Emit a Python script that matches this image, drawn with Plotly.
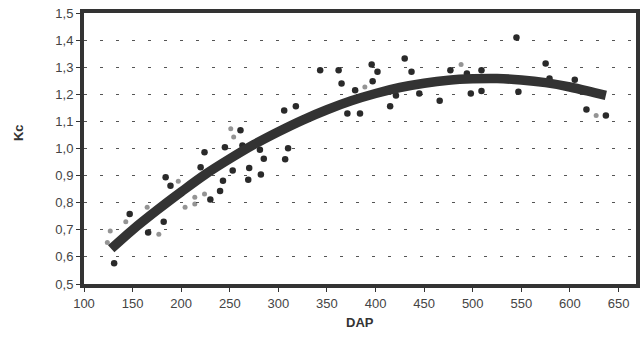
import plotly.graph_objects as go

# Observed points (DAP, Kc) - clearly printed dots
dap_obs = [131, 147, 166, 182, 184, 189, 220, 230, 240, 243, 253, 270, 269, 282,
           224, 245, 261, 263, 281, 285, 310, 307, 306, 318, 343, 362, 365, 371,
           384, 379, 396, 402, 397, 415, 421, 430, 437, 445, 466, 477, 494, 498,
           509, 509, 545, 547, 575, 579, 605, 617, 637]
kc_obs = [0.577, 0.758, 0.690, 0.730, 0.894, 0.863, 0.931, 0.812, 0.843, 0.881,
          0.919, 0.928, 0.885, 0.904, 0.986, 1.005, 1.067, 1.011, 0.995, 0.962,
          1.001, 0.960, 1.140, 1.156, 1.289, 1.289, 1.240, 1.129, 1.129, 1.215,
          1.310, 1.283, 1.248, 1.156, 1.196, 1.332, 1.283, 1.203, 1.176, 1.289,
          1.277, 1.203, 1.289, 1.212, 1.410, 1.209, 1.314, 1.258, 1.254, 1.144,
          1.122]

# Observed points that are faint in the print
dap_faint = [143, 127, 124, 165, 177, 197, 204, 214, 214, 224, 254, 251, 389, 488, 627]
kc_faint = [0.730, 0.696, 0.653, 0.783, 0.684, 0.879, 0.783, 0.795, 0.820, 0.832,
            1.042, 1.073, 1.227, 1.310, 1.122]

# Fitted curve
dap_fit = [128, 150, 175, 200, 225, 250, 275, 300, 325, 350, 375, 400, 425, 450,
           475, 500, 525, 550, 575, 600, 625, 637]
kc_fit = [0.630, 0.700, 0.772, 0.840, 0.905, 0.962, 1.015, 1.062, 1.105, 1.143,
          1.176, 1.203, 1.225, 1.241, 1.252, 1.257, 1.258, 1.253, 1.243, 1.227,
          1.206, 1.196]

x_ticks = [100, 150, 200, 250, 300, 350, 400, 450, 500, 550, 600, 650]
y_ticks = [0.5, 0.6, 0.7, 0.8, 0.9, 1.0, 1.1, 1.2, 1.3, 1.4, 1.5]

FONT = "Liberation Sans, Arial, sans-serif"

fig = go.Figure()
fig.add_trace(go.Scatter(x=dap_faint, y=kc_faint, mode="markers",
                         marker=dict(size=5, color="rgba(60,60,60,0.55)"),
                         showlegend=False, hoverinfo="skip"))
fig.add_trace(go.Scatter(x=dap_obs, y=kc_obs, mode="markers",
                         marker=dict(size=6.5, color="#2a2a2a"),
                         showlegend=False))
fig.add_trace(go.Scatter(x=dap_fit, y=kc_fit, mode="lines",
                         line=dict(color="#333333", width=9.5, shape="spline"),
                         showlegend=False))

axis_font = dict(family=FONT, size=13, color="#444444")

fig.update_layout(
    width=640, height=337,
    margin=dict(l=84, r=4, t=13, b=53),
    paper_bgcolor="white", plot_bgcolor="white",
    separators=",.",
    font=axis_font,
    xaxis=dict(range=[100, 668], tickvals=x_ticks, ticks="outside", ticklen=4,
               tickcolor="#333333", showgrid=False, zeroline=False,
               showline=True, linecolor="#333333", linewidth=4, mirror=True,
               tickfont=axis_font, automargin=False),
    yaxis=dict(range=[0.5, 1.5], tickvals=y_ticks, tickformat=".1f",
               ticks="outside", ticklen=4, tickcolor="#333333",
               showgrid=True, gridcolor="#555555", gridwidth=1,
               griddash="3px,13px", zeroline=False,
               showline=True, linecolor="#333333", linewidth=4, mirror=True,
               tickfont=axis_font, automargin=False),
    annotations=[
        dict(text="<b>DAP</b>", xref="paper", yref="paper", x=0.5, y=0,
             yshift=-38, showarrow=False, xanchor="center", yanchor="middle",
             font=dict(family=FONT, size=13, color="#333333")),
        dict(text="<b>Kc</b>", xref="paper", yref="paper", x=0, y=0.557,
             xshift=-66, showarrow=False, xanchor="center", yanchor="middle",
             textangle=-90, font=dict(family=FONT, size=13, color="#333333")),
    ],
)

fig.write_html("out.html", config={"displayModeBar": False},
               post_script="document.body.style.margin='0';document.body.style.padding='0';")
